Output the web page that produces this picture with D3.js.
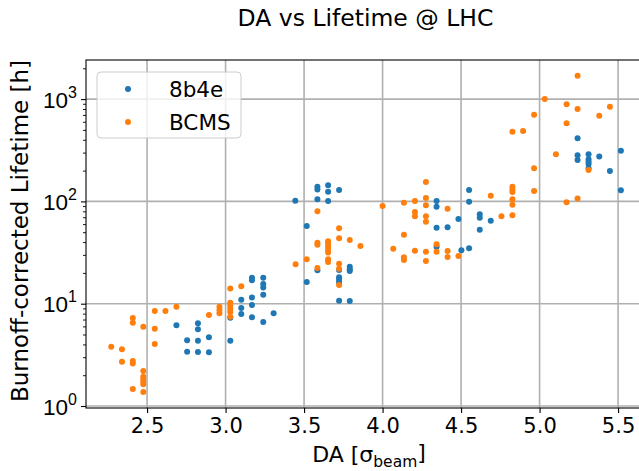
<!DOCTYPE html>
<html>
<head>
<meta charset="utf-8">
<script src="https://cdn.jsdelivr.net/npm/d3@7"></script>
<style>
  body { margin: 0; background: #fff; }
  svg { display: block; font-family: "DejaVu Sans", sans-serif; }
</style>
</head>
<body>
<svg id="chart" width="639" height="471"></svg>
<script>
// ---- data ----
const title = "DA vs Lifetime @ LHC";
const seriesNames = ["8b4e", "BCMS"];
const seriesColors = ["#1f77b4", "#ff7f0e"];
const xTicks = [2.5, 3.0, 3.5, 4.0, 4.5, 5.0, 5.5];
const yTickExps = [0, 1, 2, 3];

const da8b4e = [2.687,2.755,2.755,2.824,2.824,2.824,2.824,2.894,2.894,3.030,3.030,3.100,3.100,3.100,
  3.168,3.168,3.168,3.168,3.168,3.240,3.240,3.240,3.240,3.240,3.306,3.444,3.517,3.517,
  3.585,3.585,3.585,3.585,3.653,3.653,3.653,3.723,3.723,3.723,3.723,3.723,3.723,
  3.791,3.791,3.791,3.791,4.344,4.344,4.344,4.344,4.414,4.483,4.502,4.551,4.551,4.551,
  4.619,4.619,4.619,4.689,5.242,5.242,5.242,5.312,5.312,5.312,5.312,5.312,5.380,5.448,5.518,5.518];
const life8b4e = [6.15,4.39,3.40,6.43,5.62,4.35,3.37,4.69,3.35,7.30,4.35,10.9,9.08,7.93,
  17.9,17.0,11.5,9.71,7.36,17.9,15.6,14.4,12.2,6.62,8.06,101.6,57.5,16.3,
  139,131,105,21.2,144,124,101,129,21.3,18.1,17.1,16.1,10.7,
  23.0,21.7,20.9,10.6,100.9,88.8,55.3,36.1,55.8,67.3,33.3,129,99.3,34.8,
  74.8,69.3,52.9,64.8,414,282,254,289,258,244,232,211,274,198,313,128.5];

const daBCMS = [2.272,2.340,2.340,2.409,2.409,2.409,2.409,2.409,2.476,2.476,2.476,2.476,2.476,2.476,2.476,
  2.549,2.549,2.549,2.617,2.687,2.894,2.961,2.961,2.961,3.030,3.030,3.030,3.030,3.030,3.030,3.100,
  3.446,3.517,3.585,3.585,3.585,3.585,3.653,3.653,3.653,3.653,3.653,3.653,3.653,
  3.723,3.723,3.723,3.723,3.723,3.791,3.859,4.000,4.068,4.136,4.136,4.136,4.136,
  4.206,4.206,4.206,4.206,4.276,4.276,4.276,4.276,4.276,4.276,4.276,4.344,4.344,
  4.414,4.414,4.414,4.483,4.689,4.757,4.827,4.827,4.827,4.827,4.827,4.827,4.827,4.895,
  4.965,4.965,4.965,5.033,5.104,5.172,5.172,5.172,5.242,5.242,5.242,5.312,5.380,5.448];
const lifeBCMS = [3.80,3.58,2.71,7.25,6.52,2.75,2.61,1.47,5.96,2.20,1.93,1.84,1.73,1.63,1.37,
  8.48,5.70,4.04,8.48,9.34,7.76,9.34,8.67,8.06,14.1,10.2,9.5,8.87,8.3,7.46,14.8,
  24.3,27.2,80.0,39.5,37.7,22.3,40.8,38.5,36.2,33.6,31.6,27.2,25.5,
  54.6,43.6,24.6,21.9,15.2,42.0,36.6,90.2,34.5,97.1,47.3,28.4,26.7,
  100.9,78.8,71.5,33.0,154.8,108,91.6,71.5,63.3,32.2,26.1,38.1,32.2,
  84.9,32.7,28.6,29.3,113.7,71.5,139,131,123.6,104.8,92.9,73.1,480,488,
  704,211,126.4,1002,289,889,580,98,1694,800,107,203,688,843];

// ---- layout ----
const svg = d3.select("#chart");
const L = 86, R = 641, T = 60, B = 408;
const x = d3.scaleLinear().domain([2.111, 5.646]).range([L, R]);
const y = d3.scaleLog().domain([0.956, 2411]).range([B, T]);

// gridlines
const grid = svg.append("g").attr("stroke", "#b0b0b0").attr("stroke-width", 1.6);
xTicks.forEach(t => grid.append("line").attr("x1", x(t)).attr("x2", x(t)).attr("y1", T).attr("y2", B));
yTickExps.forEach(e => grid.append("line").attr("x1", L).attr("x2", R).attr("y1", y(10 ** e)).attr("y2", y(10 ** e)));

// x axis
const xAxis = d3.axisBottom(x).tickValues(xTicks).tickFormat(d3.format(".1f")).tickSize(5).tickPadding(5);
const gx = svg.append("g").attr("transform", `translate(0,${B})`).call(xAxis);
gx.select(".domain").remove();
gx.selectAll("line").attr("stroke", "#000").attr("stroke-width", 1.1);
gx.selectAll("text").attr("font-size", 21).attr("fill", "#000").attr("font-family", "DejaVu Sans");

// y axis: minor ticks
const minor = [];
for (let e = -1; e <= 3; e++) for (let m = 2; m <= 9; m++) {
  const v = m * 10 ** e;
  if (v >= y.domain()[0] && v <= y.domain()[1]) minor.push(v);
}
const gy = svg.append("g").attr("transform", `translate(${L},0)`);
gy.call(d3.axisLeft(y).tickValues(minor).tickFormat("").tickSize(3));
gy.select(".domain").remove();
gy.selectAll("line").attr("stroke", "#000").attr("stroke-width", 0.9);
const gy2 = svg.append("g").attr("transform", `translate(${L},0)`);
gy2.call(d3.axisLeft(y).tickValues(yTickExps.map(e => 10 ** e)).tickFormat("").tickSize(5));
gy2.select(".domain").remove();
gy2.selectAll("line").attr("stroke", "#000").attr("stroke-width", 1.1);
gy2.selectAll(".tick").each(function(d, i) {
  const t = d3.select(this).append("text")
    .attr("x", -9).attr("y", 0).attr("dy", "0.36em")
    .attr("text-anchor", "end").attr("fill", "#000").attr("font-size", 22.5);
  t.append("tspan").text("10");
  t.append("tspan").attr("font-size", 16).attr("dy", "-0.62em").text(String(Math.round(Math.log10(d))));
});

// spines
svg.append("rect").attr("x", L).attr("y", T).attr("width", R - L).attr("height", B - T)
  .attr("fill", "none").attr("stroke", "#000").attr("stroke-width", 1.1);

// points
const series = [
  { name: seriesNames[0], color: seriesColors[0], xs: da8b4e, ys: life8b4e },
  { name: seriesNames[1], color: seriesColors[1], xs: daBCMS, ys: lifeBCMS }
];
series.forEach(s => {
  svg.append("g").selectAll("circle").data(s.xs.map((v, i) => [v, s.ys[i]])).join("circle")
    .attr("cx", d => x(d[0])).attr("cy", d => y(d[1])).attr("r", 3).attr("fill", s.color);
});

// legend
const lg = svg.append("g");
lg.append("rect").attr("x", 97).attr("y", 72).attr("width", 144).attr("height", 66).attr("rx", 4)
  .attr("fill", "#fff").attr("fill-opacity", 0.8).attr("stroke", "#cccccc").attr("stroke-width", 1);
series.forEach((s, i) => {
  const cy = 89 + i * 33;
  lg.append("circle").attr("cx", 128).attr("cy", cy).attr("r", 3).attr("fill", s.color);
  lg.append("text").attr("x", 169).attr("y", cy).attr("dy", "0.36em").attr("font-size", 21.5)
    .attr("fill", "#000").text(s.name);
});

// title
svg.append("text").attr("x", (L + 639) / 2 + 3).attr("y", 26).attr("text-anchor", "middle")
  .attr("font-size", 23.5).attr("fill", "#000").text(title);

// x label
const xl = svg.append("text").attr("x", 369).attr("y", 462).attr("text-anchor", "middle")
  .attr("font-size", 22).attr("fill", "#000");
xl.append("tspan").text("DA [σ");
xl.append("tspan").attr("font-size", 15.5).attr("dy", "0.3em").text("beam");
xl.append("tspan").attr("dy", "-0.3em").text("]");

// y label
svg.append("text").attr("transform", `translate(28,${(T + B) / 2 - 3}) rotate(-90)`)
  .attr("text-anchor", "middle").attr("font-size", 23).attr("fill", "#000")
  .text("Burnoff-corrected Lifetime [h]");
</script>
</body>
</html>
